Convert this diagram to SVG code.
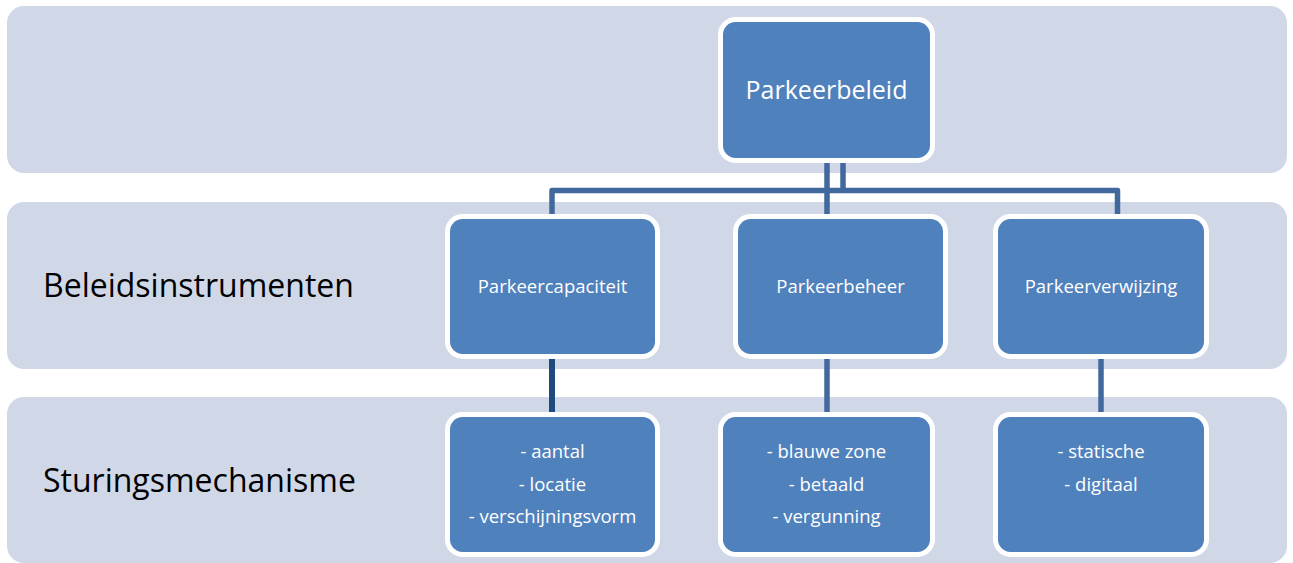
<svg xmlns="http://www.w3.org/2000/svg" width="1293" height="563" viewBox="0 0 1293 563">
<style>
.band{fill:#D0D8E8;}
.box{fill:#4F81BD;stroke:#FFFFFF;stroke-width:5;}
.t{font-family:"Open Sans","Noto Sans",sans-serif;fill:#FFFFFF;text-anchor:middle;font-size:18.5px;}
.lbl{font-family:"Open Sans","Noto Sans",sans-serif;fill:#000000;font-size:32px;}
.c{fill:none;stroke:#41699D;stroke-width:5.5;stroke-linejoin:round;}
.cd{fill:none;stroke:#1F4A7F;stroke-width:6;}
</style>
<rect width="1293" height="563" fill="#FFFFFF"/>
<g id="bands">
<rect class="band" x="7" y="6" width="1280" height="167" rx="17"/>
<rect class="band" x="7" y="202" width="1280" height="167" rx="17"/>
<rect class="band" x="7" y="397" width="1280" height="166" rx="17"/>
<text class="lbl" x="43" y="297">Beleidsinstrumenten</text>
<text class="lbl" x="43" y="492">Sturingsmechanisme</text>
</g>
<g id="connectors">
<path class="c" d="M827,160 V216"/>
<path class="c" d="M843,160 V190.5"/>
<path class="c" d="M552,216 V190.5 H1117.5 V216"/>
<path class="cd" d="M552,358 V414"/>
<path class="c" d="M827,358 V414"/>
<path class="c" d="M1101,358 V414"/>
</g>
<g id="parkeerbeleid">
<rect class="box" x="720.5" y="19.5" width="212" height="141" rx="15"/>
<text class="t" x="826.5" y="99" style="font-size:25px">Parkeerbeleid</text>
</g>
<g id="parkeercapaciteit">
<rect class="box" x="447.5" y="216.5" width="210" height="140" rx="15"/>
<text class="t" x="552.5" y="293">Parkeercapaciteit</text>
</g>
<g id="parkeerbeheer">
<rect class="box" x="735.5" y="216.5" width="210" height="140" rx="15"/>
<text class="t" x="840.5" y="293">Parkeerbeheer</text>
</g>
<g id="parkeerverwijzing">
<rect class="box" x="995.5" y="216.5" width="211" height="140" rx="15"/>
<text class="t" x="1101" y="293">Parkeerverwijzing</text>
</g>
<g id="mech-capaciteit">
<rect class="box" x="447.5" y="414.5" width="210" height="140" rx="15"/>
<text class="t" x="552.5" y="458">- aantal</text>
<text class="t" x="552.5" y="490.5">- locatie</text>
<text class="t" x="552.5" y="523">- verschijningsvorm</text>
</g>
<g id="mech-beheer">
<rect class="box" x="720.5" y="414.5" width="212" height="140" rx="15"/>
<text class="t" x="826.5" y="458">- blauwe zone</text>
<text class="t" x="826.5" y="490.5">- betaald</text>
<text class="t" x="826.5" y="523">- vergunning</text>
</g>
<g id="mech-verwijzing">
<rect class="box" x="995.5" y="414.5" width="211" height="140" rx="15"/>
<text class="t" x="1101" y="458">- statische</text>
<text class="t" x="1101" y="490.5">- digitaal</text>
</g>
</svg>
